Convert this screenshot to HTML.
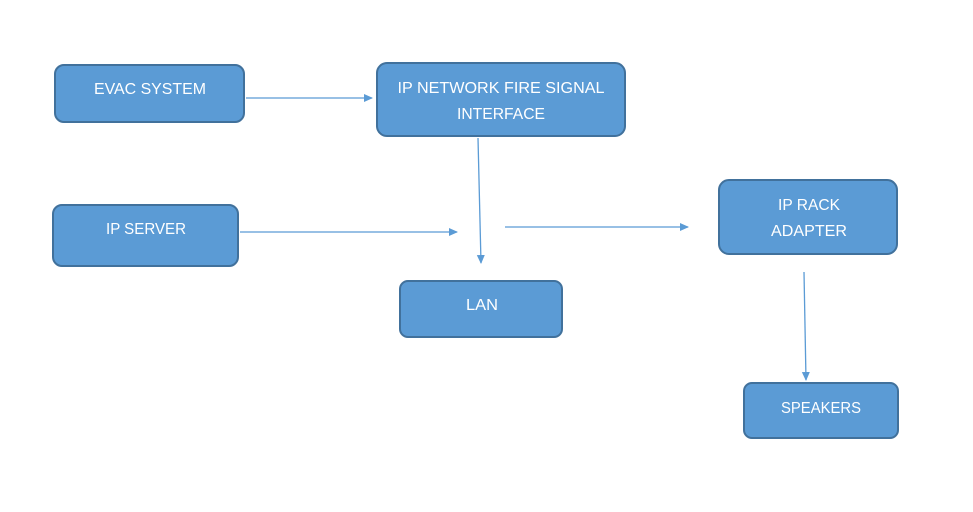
<!DOCTYPE html>
<html><head><meta charset="utf-8"><style>
html,body{margin:0;padding:0;background:#fff;}
svg{display:block;}
text{font-family:"Liberation Sans",sans-serif;font-size:16px;fill:#fff;}
</style></head><body>
<svg width="973" height="512" viewBox="0 0 973 512">
<defs>
<marker id="a" markerWidth="10" markerHeight="10" refX="8" refY="4" orient="auto" markerUnits="userSpaceOnUse">
<path d="M0,0 L9,4 L0,8 z" fill="#5B9BD5"/>
</marker>
</defs>
<g fill="#5B9BD5" stroke="#41719C" stroke-width="2">
<rect x="55" y="65" width="189" height="57" rx="9"/>
<rect x="377" y="63" width="248" height="73" rx="10"/>
<rect x="53" y="205" width="185" height="61" rx="9"/>
<rect x="400" y="281" width="162" height="56" rx="8"/>
<rect x="719" y="180" width="178" height="74" rx="10"/>
<rect x="744" y="383" width="154" height="55" rx="8"/>
</g>
<g stroke="#5B9BD5" stroke-width="1.3" fill="none" marker-end="url(#a)">
<line x1="246" y1="98" x2="372" y2="98"/>
<line x1="478" y1="138" x2="481" y2="263"/>
<line x1="240" y1="232" x2="457" y2="232"/>
<line x1="505" y1="227" x2="688" y2="227"/>
<line x1="804" y1="272" x2="806" y2="380"/>
</g>
<g text-anchor="middle">
<text x="150" y="94" textLength="112" lengthAdjust="spacingAndGlyphs">EVAC SYSTEM</text>
<text x="501" y="93" textLength="207" lengthAdjust="spacingAndGlyphs">IP NETWORK FIRE SIGNAL</text>
<text x="501" y="119" textLength="88" lengthAdjust="spacingAndGlyphs">INTERFACE</text>
<text x="146" y="234" textLength="80" lengthAdjust="spacingAndGlyphs">IP SERVER</text>
<text x="482" y="310" textLength="32" lengthAdjust="spacingAndGlyphs">LAN</text>
<text x="809" y="210" textLength="62" lengthAdjust="spacingAndGlyphs">IP RACK</text>
<text x="809" y="236" textLength="76" lengthAdjust="spacingAndGlyphs">ADAPTER</text>
<text x="821" y="413" textLength="80" lengthAdjust="spacingAndGlyphs">SPEAKERS</text>
</g>
</svg>
</body></html>
